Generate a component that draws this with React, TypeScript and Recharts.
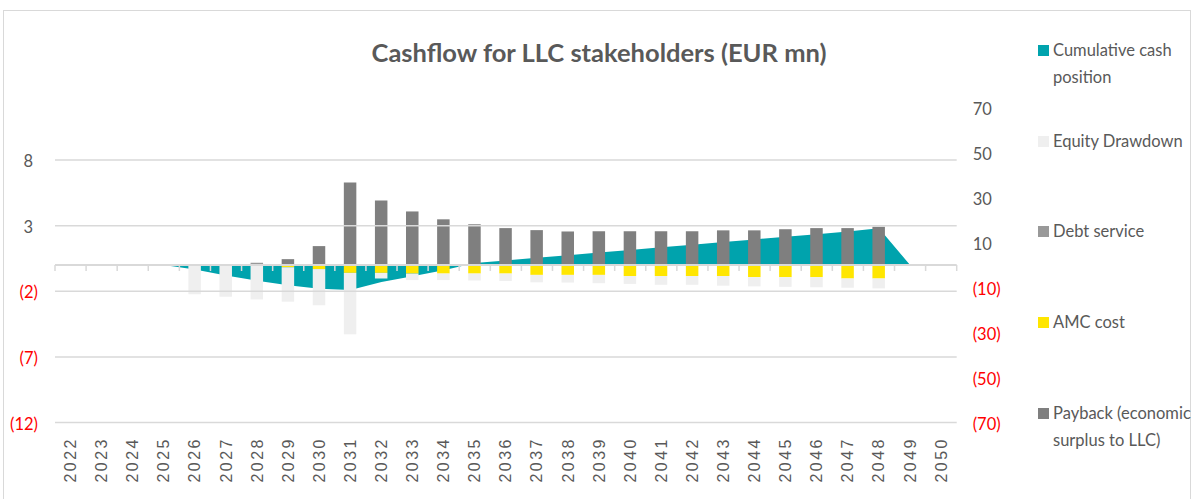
import {
  Area,
  Bar,
  ComposedChart,
  ReferenceLine,
  XAxis,
  YAxis,
} from 'recharts';

const YEARS = [
  '2022', '2023', '2024', '2025', '2026', '2027', '2028', '2029', '2030', '2031',
  '2032', '2033', '2034', '2035', '2036', '2037', '2038', '2039', '2040', '2041',
  '2042', '2043', '2044', '2045', '2046', '2047', '2048', '2049', '2050',
];

// left axis
const CUMULATIVE_CASH = [
  null, null, null, 0, -0.35, -0.8, -1.2, -1.55, -1.8, -1.9,
  -1.3, -0.85, -0.4, 0.15, 0.35, 0.55, 0.75, 0.95, 1.15, 1.35,
  1.55, 1.75, 1.95, 2.15, 2.35, 2.55, 2.8, 0, null,
];

// right axis
const EQUITY_DRAWDOWN = [
  0, 0, 0, 0, -13.0, -14.1, -14.9, -15.3, -16.1, -27.3,
  -2.5, -2.9, -2.9, -3.1, -3.3, -3.3, -3.4, -3.7, -3.5, -3.9,
  -3.9, -4.3, -4.1, -4.3, -4.5, -4.1, -4.4, 0, 0,
];
const DEBT_SERVICE = [
  0, 0, 0, 0, 0, 0, 1.0, 0, 0, 0,
  0, 0, 0, 0, 0, 0, 0, 0, 0, 0,
  0, 0, 0, 0, 0, 0, 0, 0, 0,
];
const AMC_COST = [
  0, 0, 0, 0, 0, 0, -0.4, -1.0, -1.8, -3.5,
  -3.5, -3.8, -3.8, -3.8, -3.8, -4.4, -4.4, -4.4, -4.9, -4.9,
  -4.9, -4.9, -5.4, -5.4, -5.4, -6.0, -6.0, 0, 0,
];
const PAYBACK = [
  0, 0, 0, 0, 0, 0, 0, 2.6, 8.4, 36.7,
  28.7, 23.8, 20.3, 18.1, 16.4, 15.5, 14.9, 15.0, 15.0, 15.0,
  15.0, 15.4, 15.4, 15.9, 16.4, 16.4, 17.0, 0, 0,
];

const LEFT_TICKS = [-12, -7, -2, 3, 8];
const RIGHT_TICKS = [-70, -50, -30, -10, 10, 30, 50, 70];

const COLORS = {
  cash: '#00A3AD',
  equity: '#EFEFEF',
  debt: '#999999',
  amc: '#FFE600',
  payback: '#7F7F7F',
};

const LEGEND_ITEMS = [
  { lines: ['Cumulative cash', 'position'], color: COLORS.cash, top: 37 },
  { lines: ['Equity Drawdown'], color: COLORS.equity, top: 128 },
  { lines: ['Debt service'], color: COLORS.debt, top: 218 },
  { lines: ['AMC cost'], color: COLORS.amc, top: 309 },
  { lines: ['Payback (economic', 'surplus to LLC)'], color: COLORS.payback, top: 400 },
];

const FONT = 'Lato, sans-serif';
const TEXT_GREY = '#595959';
const GRID = '#D9D9D9';

const chartData = YEARS.map((year, i) => ({
  year,
  cash: CUMULATIVE_CASH[i],
  equity: EQUITY_DRAWDOWN[i],
  debt: DEBT_SERVICE[i],
  amc: AMC_COST[i],
  payback: PAYBACK[i],
}));

function fmt(v: number) {
  return v < 0 ? `(${-v})` : String(v);
}

function LeftTick(props: any) {
  const { x, y, payload } = props;
  const v = payload.value as number;
  const neg = v < 0;
  return (
    <text
      x={neg ? x : x - 5}
      y={y}
      dy={7}
      textAnchor="end"
      fill={neg ? '#FF0000' : TEXT_GREY}
      fontSize={16.5}
      fontFamily={FONT}
    >
      {fmt(v)}
    </text>
  );
}

function RightTick(props: any) {
  const { x, y, payload } = props;
  const v = payload.value as number;
  const neg = v < 0;
  return (
    <text
      x={x}
      y={y}
      dy={7}
      textAnchor="start"
      fill={neg ? '#FF0000' : TEXT_GREY}
      fontSize={16.5}
      fontFamily={FONT}
    >
      {fmt(v)}
    </text>
  );
}

function YearTick(props: any) {
  const { x, y, payload } = props;
  return (
    <text
      transform={`translate(${x},${y}) rotate(-90)`}
      textAnchor="end"
      dominantBaseline="central"
      fill={TEXT_GREY}
      fontSize={16}
      letterSpacing={2.5}
      fontFamily="'Liberation Sans', Arial, sans-serif"
    >
      {payload.value}
    </text>
  );
}

// zero line with category tick marks hanging below it
function ZeroLine(props: any) {
  const { x1, y1, x2 } = props;
  const step = (x2 - x1) / YEARS.length;
  const marks = [];
  for (let i = 0; i <= YEARS.length; i++) {
    const x = x1 + i * step;
    marks.push(<line key={i} x1={x} x2={x} y1={y1} y2={y1 + 6} stroke={GRID} strokeWidth={1.5} />);
  }
  return (
    <g>
      <line x1={x1} x2={x2} y1={y1} y2={y1} stroke={GRID} strokeWidth={2} />
      {marks}
    </g>
  );
}

export default function App() {
  return (
    <div style={{ position: 'absolute', left: 0, top: 0, width: 1198, height: 499, background: '#fff', overflow: 'hidden' }}>
      <div
        style={{
          position: 'absolute',
          left: 3,
          top: 10,
          width: 1188,
          height: 520,
          border: '1.5px solid ' + GRID,
          boxSizing: 'border-box',
        }}
      />
      <div
        style={{
          position: 'absolute',
          left: 0,
          top: 36,
          width: 1198,
          textAlign: 'center',
          fontFamily: FONT,
          fontWeight: 700,
          fontSize: 25.5,
          lineHeight: '32px',
          color: TEXT_GREY,
        }}
      >
        Cashflow for LLC stakeholders (EUR mn)
      </div>
      {LEGEND_ITEMS.map((item) => (
        <div key={item.lines[0]} style={{ position: 'absolute', left: 1038, top: item.top }}>
          <div
            style={{
              position: 'absolute',
              left: 0,
              top: 8,
              width: 11,
              height: 11,
              background: item.color,
            }}
          />
          <div
            style={{
              position: 'absolute',
              left: 15,
              top: 0,
              whiteSpace: 'nowrap',
              fontFamily: FONT,
              fontSize: 16.5,
              lineHeight: '27px',
              color: TEXT_GREY,
            }}
          >
            {item.lines.map((l) => (
              <div key={l}>{l}</div>
            ))}
          </div>
        </div>
      ))}
      <div style={{ position: 'absolute', left: 0, top: 0 }}>
        <ComposedChart
          width={1198}
          height={499}
          data={chartData}
          stackOffset="sign"
          margin={{ top: 107.5, right: 181.3, bottom: 0, left: 0 }}
        >
          <XAxis
            dataKey="year"
            interval={0}
            height={76.5}
            axisLine={false}
            tickLine={false}
            tickSize={0}
            tickMargin={14.5}
            tick={(p: any) => <YearTick {...p} />}
          />
          <YAxis
            yAxisId="left"
            width={55}
            domain={[-12, 12]}
            ticks={LEFT_TICKS}
            interval={0}
            axisLine={false}
            tickLine={false}
            tickSize={0}
            tickMargin={17}
            tick={(p: any) => <LeftTick {...p} />}
          />
          <YAxis
            yAxisId="right"
            orientation="right"
            width={60}
            domain={[-70, 70]}
            ticks={RIGHT_TICKS}
            interval={0}
            axisLine={false}
            tickLine={false}
            tickSize={0}
            tickMargin={16}
            tick={(p: any) => <RightTick {...p} />}
          />
          {LEFT_TICKS.map((t) => (
            <ReferenceLine key={t} yAxisId="left" y={t} stroke={GRID} strokeWidth={1.5} />
          ))}
          <Area
            yAxisId="left"
            type="linear"
            dataKey="cash"
            fill={COLORS.cash}
            fillOpacity={1}
            stroke="none"
            isAnimationActive={false}
          />
          <Bar yAxisId="right" dataKey="payback" stackId="a" barSize={12.5} fill={COLORS.payback} isAnimationActive={false} />
          <Bar yAxisId="right" dataKey="debt" stackId="a" barSize={12.5} fill={COLORS.debt} isAnimationActive={false} />
          <Bar yAxisId="right" dataKey="amc" stackId="a" barSize={12.5} fill={COLORS.amc} isAnimationActive={false} />
          <Bar yAxisId="right" dataKey="equity" stackId="a" barSize={12.5} fill={COLORS.equity} isAnimationActive={false} />
          <ReferenceLine yAxisId="left" y={0} shape={(p: any) => <ZeroLine {...p} />} />
        </ComposedChart>
      </div>
    </div>
  );
}
